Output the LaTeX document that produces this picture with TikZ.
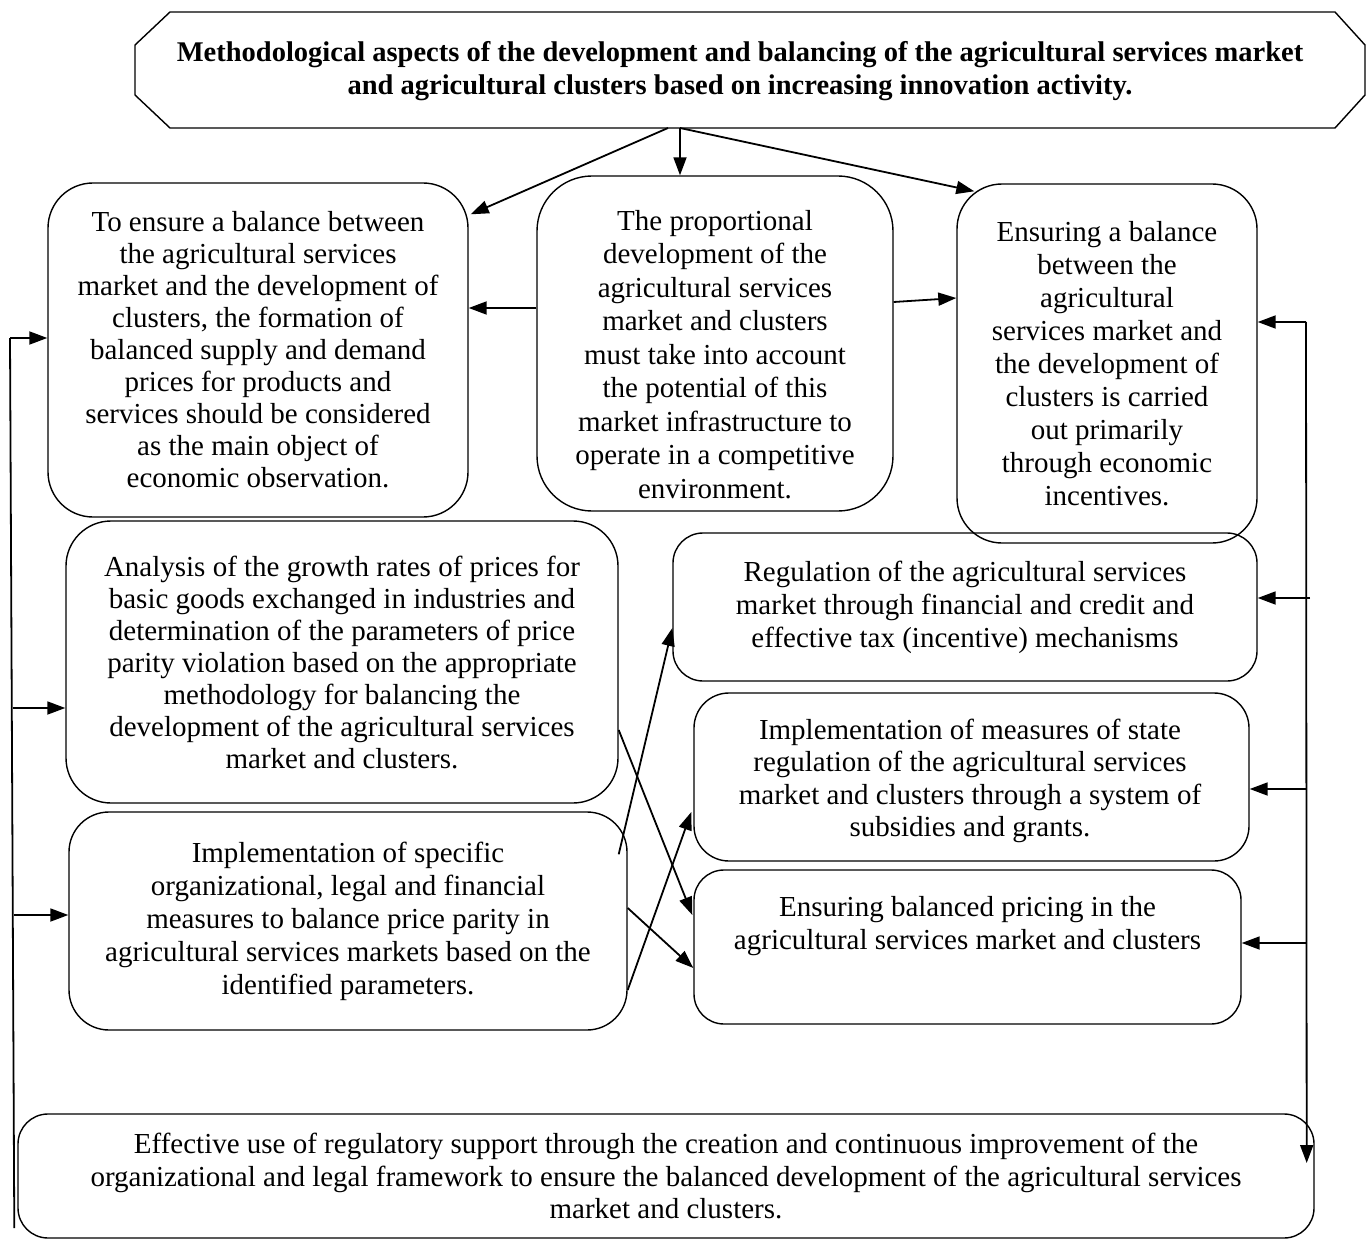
\documentclass[tikz,border=0pt]{standalone}
\usepackage{fontspec}
\setmainfont{Liberation Serif}
\usetikzlibrary{arrows.meta,calc}
\begin{document}
\begin{tikzpicture}[x=1pt,y=-1pt,
  box/.style={draw, line width=1.4pt, rounded corners=#1, align=center, inner sep=0pt,
     font=\fontsize{29}{33}\selectfont},
  box/.default=40pt,
  txt/.style={align=center, inner sep=0pt, font=\fontsize{29}{33}\selectfont},
  arr/.style={line width=1.8pt, -{Triangle[length=18pt,width=13pt]}},
  ln/.style={line width=1.8pt},
  frame/.style={line width=1.4pt}]
\useasboundingbox[fill=white] (0,0) rectangle (1368,1241);

% title
\node[align=center, inner sep=0pt, font=\fontsize{28.5}{33}\selectfont\bfseries] (T) at (740,71.5)
  {Methodological aspects of the development and balancing of the agricultural services market\\
   and agricultural clusters based on increasing innovation activity.};
\draw[frame] ([xshift=-570pt,yshift=59.5pt]T.center) -- ([xshift=595pt,yshift=59.5pt]T.center)
  -- ([xshift=625pt,yshift=26.5pt]T.center) -- ([xshift=625pt,yshift=-23.5pt]T.center)
  -- ([xshift=595pt,yshift=-56.5pt]T.center) -- ([xshift=-570pt,yshift=-56.5pt]T.center)
  -- ([xshift=-605pt,yshift=-23.5pt]T.center) -- ([xshift=-605pt,yshift=26.5pt]T.center) -- cycle;

% boxes
\node[box=45pt, minimum width=420pt, minimum height=334pt, font=\fontsize{29}{32}\selectfont] (A) at (258,350)
  {To ensure a balance between\\the agricultural services\\market and the development of\\clusters, the formation of\\balanced supply and demand\\prices for products and\\services should be considered\\as the main object of\\economic observation.};
\node[box=55pt, minimum width=356pt, minimum height=335pt] (B) at (715,343.5) {};
\node[txt, font=\fontsize{29}{33.5}\selectfont] (Bt) at (715,354.5)
  {The proportional\\development of the\\agricultural services\\market and clusters\\must take into account\\the potential of this\\market infrastructure to\\operate in a competitive\\environment.};
\node[box=45pt, minimum width=300pt, minimum height=359pt] (C) at (1107,363.5)
  {Ensuring a balance\\between the\\agricultural\\services market and\\the development of\\clusters is carried\\out primarily\\through economic\\incentives.};
\node[box=45pt, minimum width=552pt, minimum height=282pt, font=\fontsize{29}{32}\selectfont] (D) at (342,662)
  {Analysis of the growth rates of prices for\\basic goods exchanged in industries and\\determination of the parameters of price\\parity violation based on the appropriate\\methodology for balancing the\\development of the agricultural services\\market and clusters.};
\node[box=30pt, minimum width=584pt, minimum height=148pt] (E) at (965,607)
  {Regulation of the agricultural services\\market through financial and credit and\\effective tax (incentive) mechanisms};
\node[box=35pt, minimum width=555pt, minimum height=168pt] (F) at (971.5,777) {};
\node[txt, font=\fontsize{29}{32.3}\selectfont] (Ft) at (970,781)
  {Implementation of measures of state\\regulation of the agricultural services\\market and clusters through a system of\\subsidies and grants.};
\node[box=40pt, minimum width=558pt, minimum height=218pt] (G) at (348,921)
  {Implementation of specific\\organizational, legal and financial\\measures to balance price parity in\\agricultural services markets based on the\\identified parameters.};
\node[box=30pt, minimum width=547pt, minimum height=154pt] (H) at (967.5,947) {};
\node[txt] (Ht) at (967.5,926)
  {Ensuring balanced pricing in the\\agricultural services market and clusters};
\node[box=30pt, minimum width=1296pt, minimum height=124pt, font=\fontsize{29}{32.5}\selectfont] (I) at (666,1176)
  {Effective use of regulatory support through the creation and continuous improvement of the\\organizational and legal framework to ensure the balanced development of the agricultural services\\market and clusters.};

% connectors from title
\coordinate (t1) at ([xshift=-72pt,yshift=-56.5pt]T.center);
\coordinate (t2) at ([xshift=-60pt,yshift=-56.5pt]T.center);
\draw[arr] (t1) -- ([xshift=2pt,yshift=-32pt]A.north east);
\draw[arr] (t2) -- (t2 |- B.north);
\draw[arr] (t2) -- ([xshift=18pt,yshift=-8pt]C.north west);

% between top boxes
\draw[arr] ([yshift=35.5pt]B.west) -- ([yshift=42pt]A.east);
\draw[arr] ([yshift=41.5pt]B.east) -- ([yshift=65.5pt]C.west);

% left bus
\coordinate (Lb) at ([xshift=-3pt,yshift=-52pt]I.west);
\coordinate (Lt) at (10,338);
\coordinate (L2) at (13,708);
\coordinate (L3) at (14,915);
\draw[ln] (Lb) -- (Lt);
\draw[arr] (Lt) -- ([yshift=12pt]A.west);
\draw[arr] (L2) -- ([yshift=-46pt]D.west);
\draw[arr] (L3) -- ([yshift=6pt]G.west);

% right bus
\coordinate (Rt) at (1306,322);
\coordinate (RE) at (1310,598);
\coordinate (RF) at (1306,789);
\coordinate (RH) at (1306,943);
\draw[arr] (Rt) -- ([xshift=-8pt,yshift=13pt]I.east);
\draw[arr] (Rt) -- (C.east |- Rt);
\draw[arr] (RE) -- (E.east |- RE);
\draw[arr] (RF) -- (F.east |- RF);
\draw[arr] (RH) -- (H.east |- RH);

% crossing arrows
\draw[arr] ([xshift=-9pt,yshift=-43pt]G.north east) -- ([yshift=-21pt]E.west);
\draw[arr] ([yshift=-68pt]D.east) -- ([xshift=-1pt,yshift=32pt]H.west);
\draw[arr] ([yshift=13pt]G.east) -- ([yshift=-21pt]H.west);
\draw[arr] ([yshift=-69pt]G.east) -- ([xshift=-2pt,yshift=-35pt]F.west);
\end{tikzpicture}
\end{document}
